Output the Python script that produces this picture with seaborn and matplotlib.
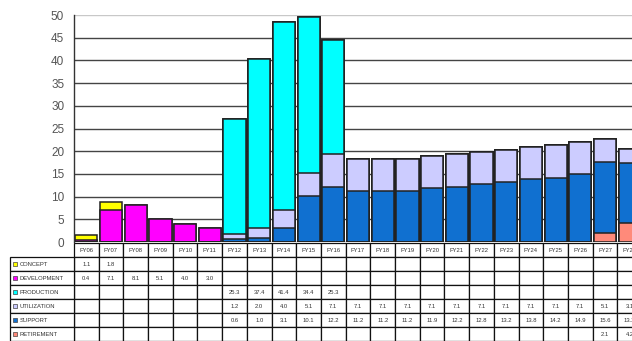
import matplotlib
matplotlib.use("Agg")
import matplotlib.pyplot as plt
import seaborn as sns
import pandas as pd

years = ['FY06', 'FY07', 'FY08', 'FY09', 'FY10', 'FY11', 'FY12', 'FY13', 'FY14', 'FY15', 'FY16',
         'FY17', 'FY18', 'FY19', 'FY20', 'FY21', 'FY22', 'FY23', 'FY24', 'FY25', 'FY26', 'FY27', 'FY28']

concept     = [1.1, 1.8, 0, 0, 0, 0, 0, 0, 0, 0, 0, 0, 0, 0, 0, 0, 0, 0, 0, 0, 0, 0, 0]
development = [0.4, 7.1, 8.1, 5.1, 4.0, 3.0, 0, 0, 0, 0, 0, 0, 0, 0, 0, 0, 0, 0, 0, 0, 0, 0, 0]
production  = [0, 0, 0, 0, 0, 0, 25.3, 37.4, 41.4, 34.4, 25.3, 0, 0, 0, 0, 0, 0, 0, 0, 0, 0, 0, 0]
utilization = [0, 0, 0, 0, 0, 0, 1.2, 2.0, 4.0, 5.1, 7.1, 7.1, 7.1, 7.1, 7.1, 7.1, 7.1, 7.1, 7.1, 7.1, 7.1, 5.1, 3.1]
support     = [0, 0, 0, 0, 0, 0, 0.6, 1.0, 3.1, 10.1, 12.2, 11.2, 11.2, 11.2, 11.9, 12.2, 12.8, 13.2, 13.8, 14.2, 14.9, 15.6, 13.2]
retirement  = [0, 0, 0, 0, 0, 0, 0, 0, 0, 0, 0, 0, 0, 0, 0, 0, 0, 0, 0, 0, 0, 2.1, 4.2]

phases = ['CONCEPT', 'DEVELOPMENT', 'PRODUCTION', 'UTILIZATION', 'SUPPORT', 'RETIREMENT']
colors = ['#FFFF00', '#FF00FF', '#00FFFF', '#CCCCFF', '#1070D0', '#FF8A7A']

df = pd.DataFrame({'year': years, 'CONCEPT': concept, 'DEVELOPMENT': development,
                   'PRODUCTION': production, 'UTILIZATION': utilization,
                   'SUPPORT': support, 'RETIREMENT': retirement})

# stacking order bottom -> top: retirement, support, utilization, production, development, concept
stack_order = phases[::-1]
cum = df[stack_order].cumsum(axis=1)

sns.set_style('white')
plt.rcParams['font.family'] = ['Liberation Sans', 'DejaVu Sans']
fig = plt.figure(figsize=(6.32, 3.41), dpi=100)
ax = fig.add_axes([0.117, 0.290, 0.899, 0.666])

# draw tallest cumulative first so lower layers sit on top
for name in phases:
    sns.barplot(x=df['year'], y=cum[name], color=colors[phases.index(name)],
                width=0.9, edgecolor='#222222', linewidth=1.1, saturation=1,
                errorbar=None, ax=ax)

ax.set_ylim(0, 50)
ax.set_xlim(-0.5, len(years) - 0.5)
ax.set_yticks(range(0, 51, 5))
ax.tick_params(axis='y', labelsize=8.5, labelcolor='#555555', color='#333333',
               length=4, width=1, pad=3)
ax.set_xticks([])
ax.set_xlabel('')
ax.set_ylabel('')
ax.set_axisbelow(True)
ax.yaxis.grid(True, color='#444444', linewidth=1.0)
ax.get_ygridlines()[-1].set_color('#c8c8c8')
for s in ['top', 'right', 'bottom']:
    ax.spines[s].set_visible(False)
ax.spines['left'].set_color('#333333')
ax.spines['left'].set_linewidth(1.0)

# data table under the chart
def fmt(v):
    return f'{v:.1f}' if v else ''

cell_text = [years] + [[fmt(v) for v in df[p]] for p in phases]
tbl = ax.table(cellText=cell_text, cellLoc='center',
               bbox=[0, -0.436, 1, 0.432])
tbl.auto_set_font_size(False)
tbl.set_fontsize(4.2)
for (r, c), cell in tbl.get_celld().items():
    cell.set_edgecolor('#111111')
    cell.set_linewidth(0.9)
    cell.get_text().set_color('#333333')

lbl = ax.table(cellText=[[''] for _ in phases], cellLoc='left',
               bbox=[-0.113, -0.436, 0.113, 0.370])
for (r, c), cell in lbl.get_celld().items():
    cell.set_edgecolor('#111111')
    cell.set_linewidth(0.9)

row_h = 0.370 / len(phases)
for i, p in enumerate(phases):
    yc = -0.066 - row_h * (i + 0.5)
    ax.scatter([-0.103], [yc], marker='s', s=9, color=colors[i], edgecolor='#444444',
               linewidth=0.5, transform=ax.transAxes, clip_on=False, zorder=5)
    ax.text(-0.096, yc, p, fontsize=4.2, color='#333333', va='center', ha='left',
            transform=ax.transAxes)

fig.savefig('out.png', dpi=100)
